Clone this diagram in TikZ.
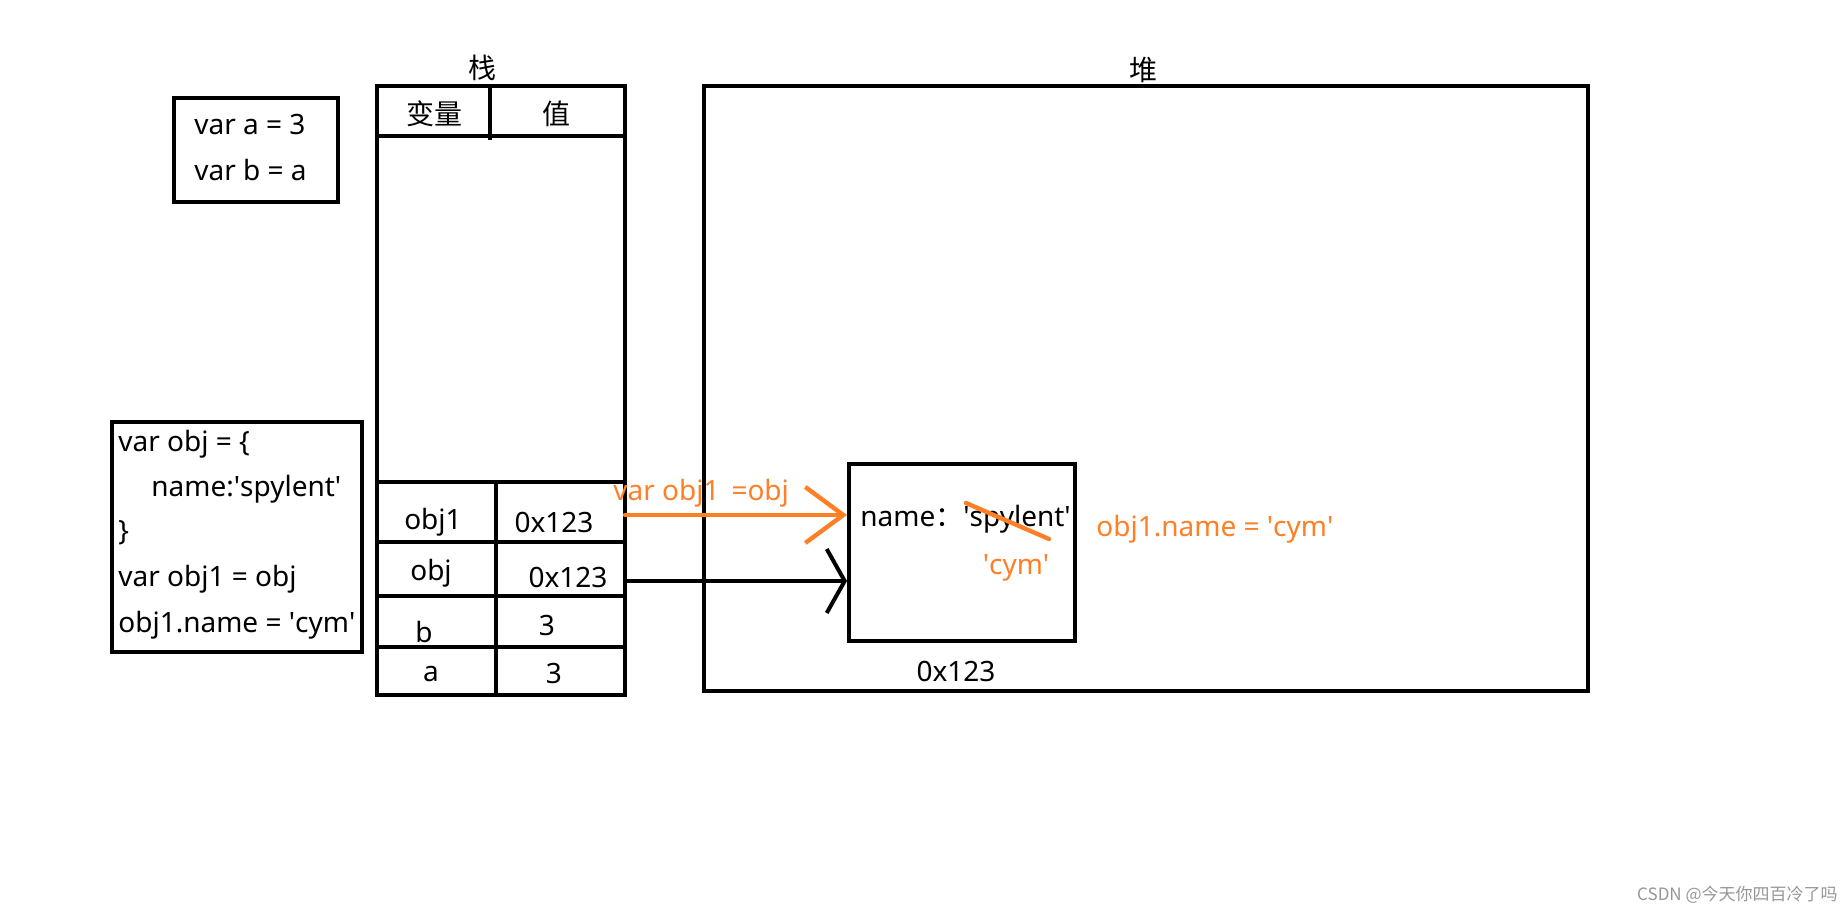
\documentclass[tikz,border=0pt]{standalone}
\usepackage{fontspec}
\setmainfont{Noto Sans}
\newfontfamily\cjk{Noto Sans CJK SC}
\usetikzlibrary{arrows.meta,positioning}
\definecolor{paintorange}{RGB}{255,127,39}
\definecolor{markgray}{RGB}{150,150,150}
\newcommand{\sq}{\textquotesingle}

\tikzset{
	frame/.style={draw,line width=2pt},
	txt/.style={font=\fontsize{14}{16}\selectfont,inner sep=0pt},
	otxt/.style={txt,text=paintorange},
	orangeline/.style={draw=paintorange,line width=2.2pt,line cap=round},
	blackline/.style={draw=black,line width=2pt,line cap=round},
}

\begin{document}
\begin{tikzpicture}[x=0.5pt,y=-0.5pt]
			\useasboundingbox (0,0) rectangle (1848,915);
			
			%%code boxes%%
			\node[frame,minimum width=82pt,minimum height=52pt] (codea) at (256,150) {};
			\node[txt,anchor=mid west] (lna) at (194,129) {var a = 3};
			\node[txt,anchor=mid west] (lnb) at (194,175) {var b = a};
			
			\node[frame,minimum width=125pt,minimum height=115pt] (codeobj) at (237,537) {};
			\node[txt,anchor=mid west] (lnc) at (118,446) {var obj = \{};
			\node[txt,anchor=mid west] (lnd) at (151,491) {name:\sq spylent\sq};
			\node[txt,anchor=mid west] (lne) at (118,535) {\}};
			\node[txt,anchor=mid west] (lnf) at (118,581) {var obj1 = obj};
			\node[txt,anchor=mid west] (lng) at (118,627) {obj1.name = \sq cym\sq};
			
			%%stack%%
			\node[txt] (stacklabel) at (482,68) {\cjk 栈};
			\draw[frame] (377,86) rectangle (625,695);
			\draw[frame] (377,136) to (625,136);
			\draw[frame] (490,86) to (490,140);
			\node[txt] (hvar) at (434,114) {\cjk 变量};
			\node[txt] (hval) at (556,114) {\cjk 值};
			
			\draw[frame] (377,482) to (625,482);
			\draw[frame] (377,542) to (625,542);
			\draw[frame] (377,596) to (625,596);
			\draw[frame] (377,647) to (625,647);
			\draw[frame] (496,482) to (496,695);
			
			\node[txt] (kobja) at (433,522) {obj1};
			\node[txt] (vobja) at (554,522) {0x123};
			\node[txt] (kobj) at (431,573) {obj};
			\node[txt] (vobj) at (568,577) {0x123};
			\node[txt] (kb) at (424,632) {b};
			\node[txt] (vb) at (547,625) {3};
			\node[txt] (ka) at (431,674) {a};
			\node[txt] (va) at (554,673) {3};
			
			%%heap%%
			\node[txt] (heaplabel) at (1143,70) {\cjk 堆};
			\draw[frame] (704,86) rectangle (1588,691);
			\node[frame,minimum width=113pt,minimum height=88.5pt] (objbox) at (962,552.5) {};
			\node[txt,anchor=mid west] (objname) at (860,521) {name{\cjk ：}\sq spylent\sq};
			\node[txt] (objaddr) at (956,671) {0x123};
			\node[otxt] (newname) at (1016,568) {\sq cym\sq};
			\draw[orangeline] (966,503) to (1049,539);
			\node[otxt,anchor=mid west] (assign) at (1096,531) {obj1.name = \sq cym\sq};
			
			%%references%%
			\coordinate (refa) at (625,515);
			\coordinate (refb) at (625,581);
			\node[otxt,anchor=mid west] (copyref) at (613,495) {var obj1 \,=obj};
			\draw[orangeline,-{Straight Barb[length=19pt,width=28pt,line width=2.2pt]}] (refa) to (objbox.west |- refa);
			\draw[blackline,-{Straight Barb[length=9pt,width=32pt,line width=2pt]}] (refb) to (objbox.west |- refb);
			
			\node[font=\cjk\fontsize{8.5}{10}\selectfont,text=markgray,anchor=east,inner sep=0pt] (mark) at (1838,895) {CSDN @今天你四百冷了吗};
		\end{tikzpicture}
\end{document}
